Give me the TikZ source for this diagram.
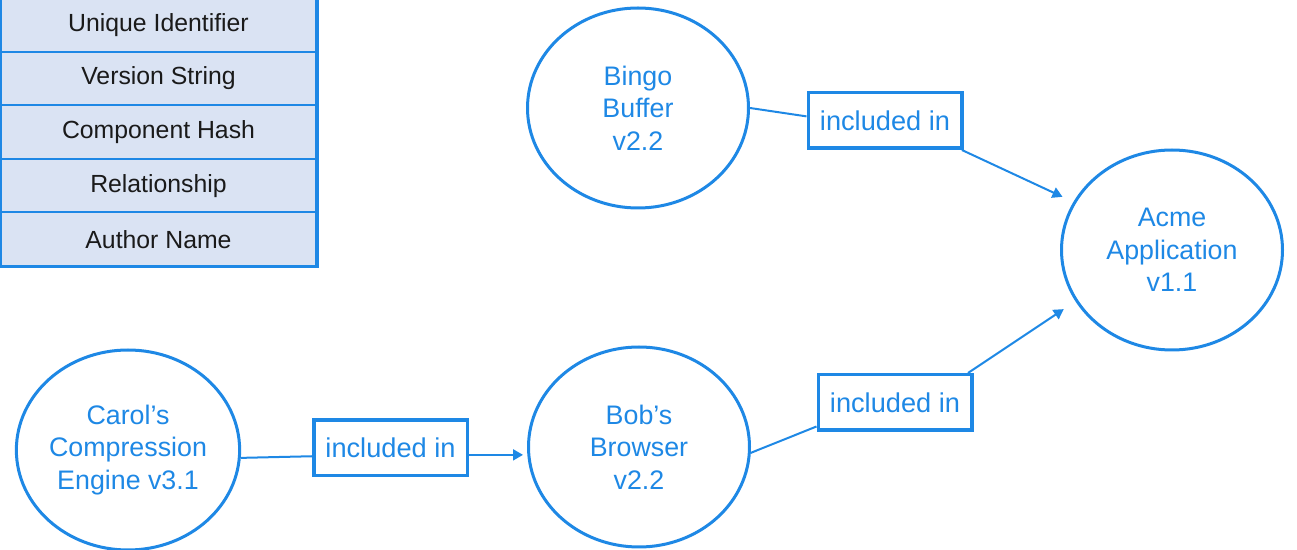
\documentclass[tikz,border=0pt]{standalone}
\usepackage{fontspec}
\setmainfont{Liberation Sans}
\usepackage{tikz}
\usepackage{xcolor}
\usetikzlibrary{calc,shapes.geometric,arrows.meta}
\definecolor{sbomblue}{RGB}{30,136,229}
\definecolor{sbomfill}{RGB}{218,227,243}
\definecolor{sbomtext}{RGB}{26,26,26}

\begin{document}
\begin{tikzpicture}[x=0.5pt,y=-0.5pt]
        \tikzstyle{field}=[draw=sbomblue,line width=1pt,fill=sbomfill,minimum width=157.5pt,minimum height=26.8pt,inner sep=0pt,text=sbomtext,font=\fontsize{12.4}{14}\selectfont]
        \tikzstyle{comp}=[ellipse,draw=sbomblue,line width=1.5pt,minimum width=110.5pt,minimum height=100pt,inner sep=0pt,align=center,text=sbomblue,font=\fontsize{13.4}{16.25}\selectfont]
        \tikzstyle{rel}=[draw=sbomblue,line width=1.75pt,minimum width=76.75pt,minimum height=27.75pt,inner sep=0pt,text=sbomblue,font=\fontsize{13.6}{16}\selectfont]
        \tikzstyle{link}=[draw=sbomblue,line width=1pt]
        \tikzstyle{linkarrow}=[link,-{Triangle[length=5pt,width=5.5pt]}]

            \useasboundingbox (0,0) rectangle (1297,550);
            \clip (0,0) rectangle (1297,550);

            % record fields
            \node[field] (uid) at (158.5,24.8) {Unique Identifier};
            \node[field] (ver) at ($(uid)+(0,53.6)$) {Version String};
            \node[field] (hash) at ($(ver)+(0,53.6)$) {Component Hash};
            \node[field] (relship) at ($(hash)+(0,53.6)$) {Relationship};
            \node[field] (author) at ($(relship)+(0,53.6)$) {Author Name};
            \draw[sbomblue,line width=1.5pt] (uid.north west) rectangle (author.south east);

            % components
            \node[comp] (bingo) at (638,108) {Bingo\\Buffer\\v2.2};
            \node[comp] (acme) at (1172,250) {Acme\\Application\\v1.1};
            \node[comp] (bob) at ($(bingo)+(1,339)$) {Bob’s\\Browser\\v2.2};
            \node[comp] (carol) at ($(bob)+(-511,3)$) {Carol’s\\Compression\\Engine v3.1};

            % relationships
            \node[rel] (inc1) at (885,120.5) {included in};
            \node[rel] (inc2) at (895,402.5) {included in};
            \node[rel] (inc3) at (390.5,448) {included in};

            \draw[link] (bingo.0) -- (inc1.177);
            \draw[linkarrow,shorten >=6pt] (inc1.339) -- (acme.154);
            \draw[link] (bob.357) -- (inc2.197);
            \draw[linkarrow,shorten >=7pt] (inc2.22) -- (acme.208);
            \draw[link] (carol.356) -- (inc3.186);
            \draw[linkarrow,shorten >=2pt] (inc3.355) -- (inc3.355 -| bob.west);

        \end{tikzpicture}
\end{document}
